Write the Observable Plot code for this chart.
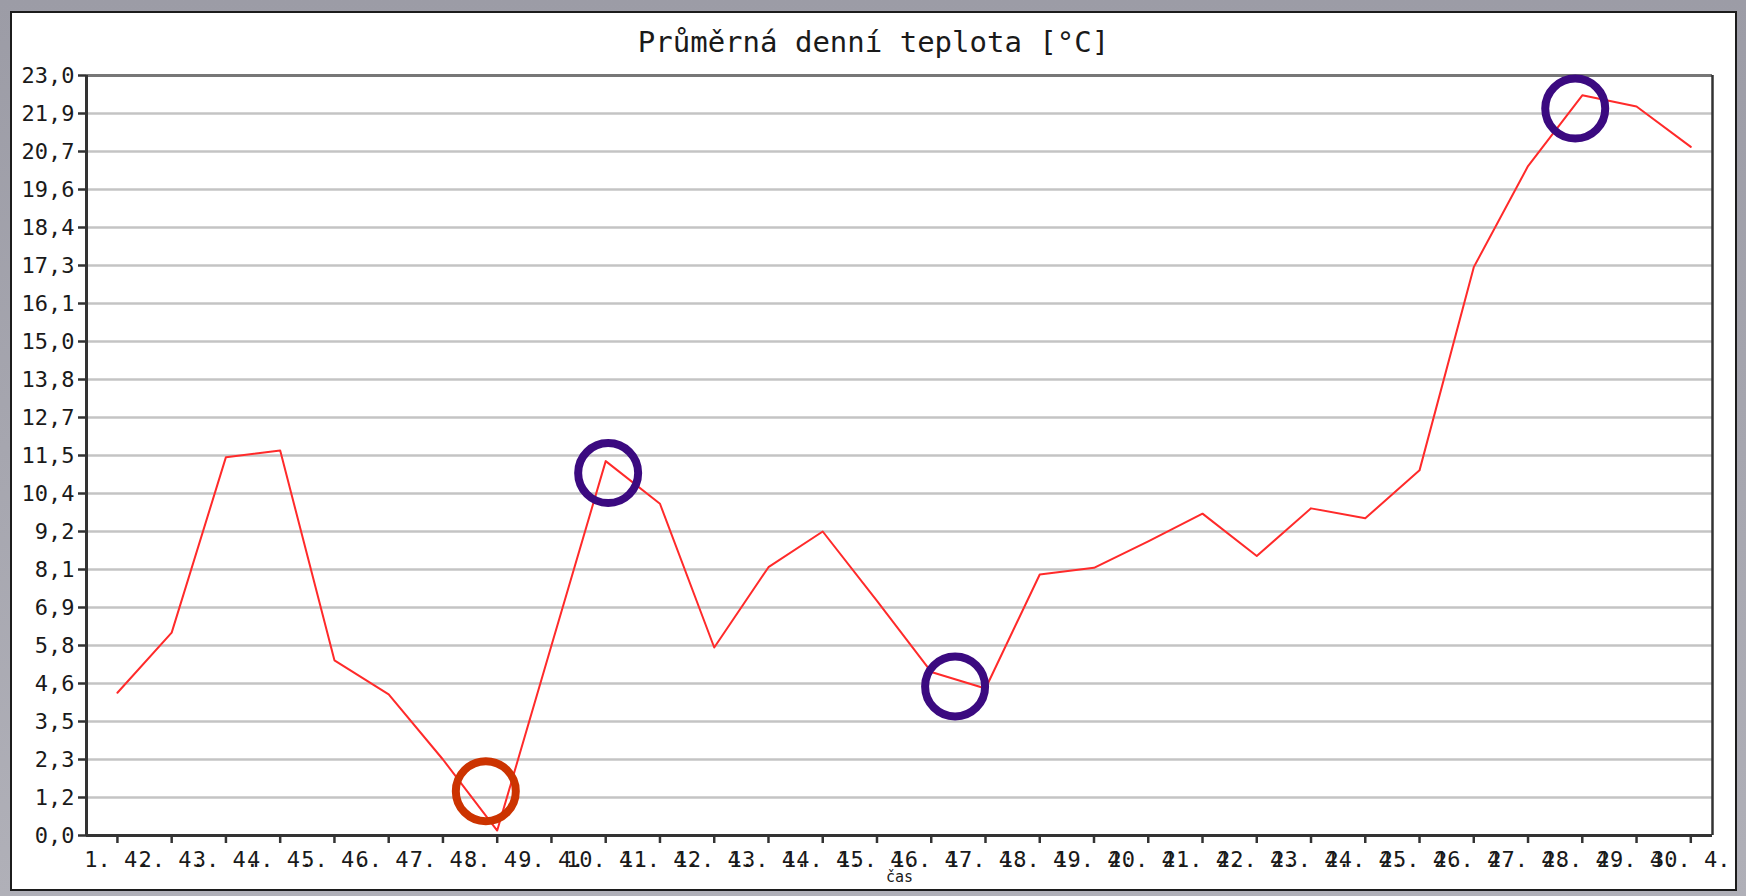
<!DOCTYPE html>
<html>
<head>
<meta charset="utf-8">
<script src="https://cdn.jsdelivr.net/npm/d3@7"></script>
<script src="https://cdn.jsdelivr.net/npm/@observablehq/plot@0.6"></script>
<style>
  html, body { margin: 0; padding: 0; }
  body { width: 1746px; height: 896px; overflow: hidden; position: relative; background: linear-gradient(180deg, #9c9ca6 0%, #b0b0b8 100%); }
  #panel { position: absolute; left: 10px; top: 11px; width: 1723px; height: 876px; background: #fff; border: 2px solid #1c1c1c; }
  #title { position: absolute; left: 10px; width: 1727px; top: 28px; text-align: center; font-family: "DejaVu Sans Mono", monospace; font-size: 29px; line-height: 29px; color: #1a1a1a; }
  #chart { position: absolute; left: 0; top: 0; width: 1746px; height: 896px; }
</style>
</head>
<body>
<div id="panel"></div>
<div id="title">Průměrná denní teplota [°C]</div>
<div id="chart"></div>
<script>
// Days of April
const days = [1,2,3,4,5,6,7,8,9,10,11,12,13,14,15,16,17,18,19,20,21,22,23,24,25,26,27,28,29,30];
const xTickLabels = ["1. 4.","2. 4.","3. 4.","4. 4.","5. 4.","6. 4.","7. 4.","8. 4.","9. 4.","10. 4.",
  "11. 4.","12. 4.","13. 4.","14. 4.","15. 4.","16. 4.","17. 4.","18. 4.","19. 4.","20. 4.",
  "21. 4.","22. 4.","23. 4.","24. 4.","25. 4.","26. 4.","27. 4.","28. 4.","29. 4.","30. 4."];
// Average daily temperature [°C]
const temps = [4.32, 6.14, 11.45, 11.65, 5.30, 4.27, 2.30, 0.15, 5.75, 11.33,
  10.04, 5.69, 8.12, 9.20, 7.10, 4.95, 4.45, 7.90, 8.10, 8.90,
  9.74, 8.46, 9.90, 9.60, 11.05, 17.20, 20.26, 22.40, 22.06, 20.84];
const yTicks = [0, 1.15, 2.3, 3.45, 4.6, 5.75, 6.9, 8.05, 9.2, 10.35, 11.5, 12.65, 13.8, 14.95, 16.1, 17.25, 18.4, 19.55, 20.7, 21.85, 23];
const yTickLabels = ["0,0","1,2","2,3","3,5","4,6","5,8","6,9","8,1","9,2","10,4","11,5","12,7","13,8","15,0","16,1","17,3","18,4","19,6","20,7","21,9","23,0"];
// Hand-drawn highlight circles (day position, temperature)
const circleDays = [7.79, 10.045, 16.44, 27.87];
const circleTemps = [1.34, 10.97, 4.51, 22.0];
const circleColors = ["#cc3300", "#3b0a80", "#3b0a80", "#3b0a80"];

const xDomain = [0.43, 30.4];
const yDomain = [0, 23];

const data = days.map((d, i) => ({day: d, temp: temps[i]}));
const circles = circleDays.map((d, i) => ({day: d, temp: circleTemps[i], color: circleColors[i]}));
const gridTicks = yTicks.filter(v => v > yDomain[0] && v < yDomain[1]);

const chart = Plot.plot({
  width: 1746,
  height: 896,
  marginLeft: 86,
  marginRight: 34,
  marginTop: 75,
  marginBottom: 61,
  style: {background: "transparent", fontFamily: "DejaVu Sans Mono, monospace", color: "#1a1a1a"},
  x: {type: "linear", domain: xDomain},
  y: {type: "linear", domain: yDomain},
  marks: [
    Plot.ruleY(gridTicks, {stroke: "#c4c4c4", strokeWidth: 2.5}),
    Plot.ruleY([yDomain[1]], {stroke: "#777", strokeWidth: 3}),
    Plot.ruleX([xDomain[1]], {stroke: "#333", strokeWidth: 2.5}),
    Plot.axisY({ticks: yTicks, tickFormat: (d, i) => yTickLabels[i], tickSize: 8, tickPadding: 4, fontSize: 22, strokeWidth: 2.5, stroke: "#333", label: null}),
    Plot.axisX({ticks: days, tickFormat: (d, i) => xTickLabels[i], tickSize: 8, tickPadding: 8, fontSize: 22, strokeWidth: 2.5, stroke: "#333", label: null}),
    Plot.text(["čas"], {frameAnchor: "bottom", dy: 46, fontSize: 15}),
    Plot.ruleX([xDomain[0]], {stroke: "#333", strokeWidth: 3}),
    Plot.ruleY([yDomain[0]], {stroke: "#333", strokeWidth: 3}),
    Plot.line(data, {x: "day", y: "temp", stroke: "#ff2a2a", strokeWidth: 2}),
    Plot.dot(circles, {x: "day", y: "temp", r: 30, stroke: "color", strokeWidth: 8, fill: "none"})
  ]
});
document.getElementById("chart").appendChild(chart);
</script>
</body>
</html>
